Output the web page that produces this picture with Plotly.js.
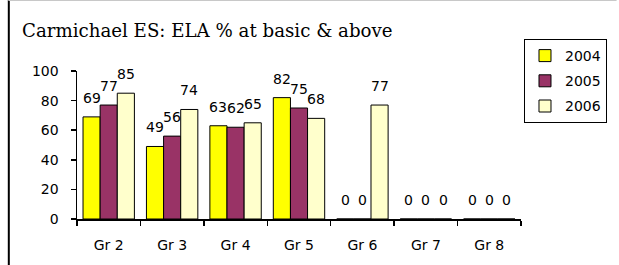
<!DOCTYPE html>
<html>
<head>
<meta charset="utf-8">
<script src="https://cdn.plot.ly/plotly-3.0.1.min.js"></script>
<style>html,body{margin:0;padding:0;background:#fff;}#chart{width:619px;height:265px;}</style>
</head>
<body>
<div id="chart"></div>
<script>
const categories = ["Gr 2", "Gr 3", "Gr 4", "Gr 5", "Gr 6", "Gr 7", "Gr 8"];
const seriesNames = ["2004", "2005", "2006"];
const values2004 = [69, 49, 63, 82, 0, 0, 0];
const values2005 = [77, 56, 62, 75, 0, 0, 0];
const values2006 = [85, 74, 65, 68, 77, 0, 0];
const yTicks = [0, 20, 40, 60, 80, 100];
const chartTitle = "Carmichael ES: ELA % at basic & above";

const colors = ["#FFFF00", "#993366", "#FFFFCC"];
const allValues = [values2004, values2005, values2006];

const W = 619, H = 265;
const M = {l: 77, r: 96, t: 71, b: 46};
const bargap = 0.19;
const plotW = W - M.l - M.r;
const plotH = H - M.t - M.b;
const barPx = plotW / categories.length * (1 - bargap) / seriesNames.length;

const numFont = {family: "DejaVu Sans, sans-serif", size: 14, color: "#000"};

const traces = allValues.map((vals, i) => ({
  type: "bar",
  name: seriesNames[i],
  x: categories,
  y: vals,
  legendgroup: "g" + i,
  marker: {color: colors[i], line: {color: "#000", width: 1}},
  hoverinfo: "skip"
}));

const annotations = [];
allValues.forEach((vals, i) => {
  vals.forEach((v, j) => {
    annotations.push({
      x: categories[j], y: v, xref: "x", yref: "y",
      text: String(v), showarrow: false,
      xanchor: "center", yanchor: "bottom",
      xshift: (i - 1) * barPx, yshift: 9,
      font: numFont
    });
  });
});

// frame lines (paper coordinates derived from margins)
const px2x = p => (p - M.l) / plotW;
const py2y = p => (H - M.b - p) / plotH;
const shapes = [
  {type: "line", xref: "paper", yref: "paper", x0: px2x(8.5), x1: px2x(8.5), y0: py2y(0), y1: py2y(H),
   line: {color: "#000", width: 2}},
  {type: "line", xref: "paper", yref: "paper", x0: px2x(8), x1: px2x(W), y0: py2y(0.5), y1: py2y(0.5),
   line: {color: "#c8c8c8", width: 1}}
];

const layout = {
  width: W, height: H,
  margin: M,
  paper_bgcolor: "#fff", plot_bgcolor: "#fff",
  barmode: "group", bargap: bargap, bargroupgap: 0,
  title: {
    text: chartTitle,
    font: {family: "DejaVu Serif, serif", size: 18.2, color: "#000"},
    xref: "container", yref: "container",
    x: 22 / W, xanchor: "left",
    y: 1 - 31 / H, yanchor: "middle"
  },
  xaxis: {
    type: "category",
    showline: true, linecolor: "#000", linewidth: 1.5,
    ticks: "outside", tickson: "boundaries", ticklen: 5, tickcolor: "#000", tickwidth: 1.5,
    ticklabelstandoff: 13,
    tickfont: numFont,
    showgrid: false, zeroline: false, fixedrange: true
  },
  yaxis: {
    range: [0, 100],
    tickvals: yTicks,
    showline: true, linecolor: "#000", linewidth: 1.5,
    ticks: "outside", ticklen: 5, tickcolor: "#000", tickwidth: 1.5,
    ticklabelstandoff: 9,
    tickfont: numFont,
    showgrid: false, zeroline: false, fixedrange: true
  },
  legend: {
    x: (526 - M.l) / plotW, xanchor: "left",
    y: (H - M.b - 39) / plotH, yanchor: "top",
    bgcolor: "#fff", bordercolor: "#000", borderwidth: 1,
    font: numFont,
    traceorder: "grouped", tracegroupgap: 4
  },
  annotations: annotations,
  shapes: shapes,
  showlegend: true
};

Plotly.newPlot("chart", traces, layout, {displayModeBar: false, staticPlot: true});
</script>
</body>
</html>
